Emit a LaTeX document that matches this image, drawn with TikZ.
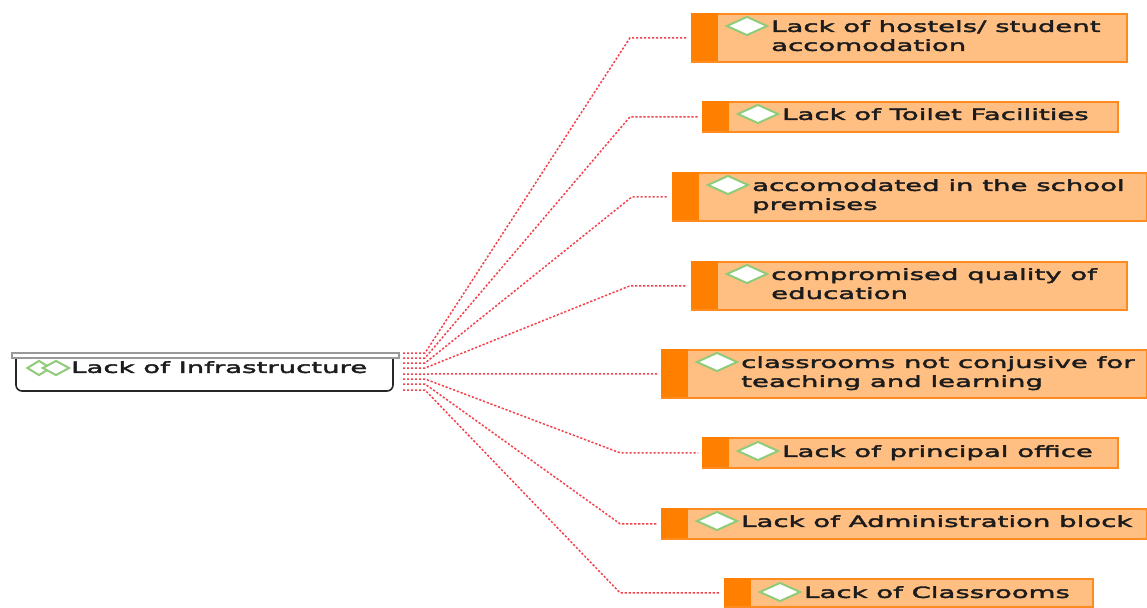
\documentclass[tikz,border=0pt]{standalone}
\usepackage{fontspec}
\setmainfont[FakeStretch=1.79,FakeBold=2.6]{DejaVu Sans}
\usetikzlibrary{shapes.geometric,calc}
\definecolor{boxfill}{HTML}{FFBE82}
\definecolor{boxedge}{HTML}{FF8A1E}
\definecolor{stripe}{HTML}{FF8000}
\definecolor{leaf}{HTML}{8FCB78}
\definecolor{link}{HTML}{F4424C}
\definecolor{ink}{HTML}{1C1C1C}
\tikzset{
  x=1pt,y=-1pt,
  boxnode/.style={draw=boxedge,line width=1.6pt,fill=boxfill,inner sep=0pt,anchor=north west},
  stripenode/.style={fill=stripe,inner sep=0pt,anchor=north west,minimum width=27pt},
  leafnode/.style={diamond,aspect=2,draw=leaf,line width=2pt,fill=white,inner sep=0pt,minimum width=41pt,minimum height=19pt},
  labelnode/.style={anchor=north west,inner sep=0pt,align=left,text=ink,font=\fontsize{15.4}{19}\selectfont},
  linkline/.style={draw=link,line width=1.5pt,dash pattern=on 2.2pt off 1.8pt,shorten >=4pt},
}
\newcommand{\topic}[9]{%
  \node[boxnode,minimum width=#4pt-1pt,minimum height=#5pt-1pt] (#1) at (#2,#3) {};
  \node[stripenode,minimum height=#5pt-1pt] (#1s) at (#2,#3) {};
  \node[leafnode] (#1d) at ($(#2,#3)+(56,#6)$) {};
  \node[labelnode] (#1t) at ($(#2,#3)+(80,#7)$) {#8};
  \coordinate (#1e) at (#9,0 |- #1.west);
}
\begin{document}
\begin{tikzpicture}
\useasboundingbox (0,0) rectangle (1147,607);
\fill[white] (0,0) rectangle (1147,607);
% root
\draw[line width=1.6pt,draw=black!85,fill=white,rounded corners=6pt] (16,352) -- (16,391) -- (393,391) -- (393,352);
\node[draw=black!40,line width=1.6pt,fill=white,inner sep=0pt,anchor=north west,minimum width=387pt,minimum height=5pt] (rootbar) at (11,352) {};
\node[diamond,aspect=1.7,draw=leaf,line width=2pt,inner sep=0pt,minimum width=24pt,minimum height=15pt] (rootda) at (39,368) {};
\node[diamond,aspect=1.7,draw=leaf,line width=2pt,fill=white,inner sep=0pt,minimum width=27pt,minimum height=15pt] (rootdb) at (56,368) {};
\node[labelnode] (roott) at (71,361) {Lack of Infrastructure};
% topics
\topic{a}{691}{13}{436}{49}{13}{7}{Lack of hostels/ student\\accomodation}{630}
\topic{b}{702}{101}{416}{31}{13}{7}{Lack of Toilet Facilities}{630}
\topic{c}{672}{172}{475}{49}{13}{7}{accomodated in the school\\premises}{632}
\topic{d}{691}{261}{436}{49}{13}{7}{compromised quality of\\education}{630}
\topic{e}{661}{349}{486}{49}{13}{7}{classrooms not conjusive for\\teaching and learning}{630}
\topic{f}{702}{437}{416}{31}{14}{8}{Lack of principal office}{620}
\topic{g}{661}{508}{486}{31}{13}{7}{Lack of Administration block}{620}
\topic{h}{724}{578}{369}{29}{14}{8}{Lack of Classrooms}{620}
% connector start points at the root
\coordinate (sa) at (403,353);
\coordinate (sb) at (403,358);
\coordinate (sc) at (403,363);
\coordinate (sd) at (403,368);
\coordinate (se) at (403,374);
\coordinate (sf) at (403,379);
\coordinate (sg) at (403,384);
\coordinate (sh) at (403,390);
\foreach \n in {a,b,c,d,e,f,g,h}{
  \draw[linkline] (s\n) -- ++(22,0) -- (\n e) -- (\n.west);
}
\end{tikzpicture}
\end{document}
